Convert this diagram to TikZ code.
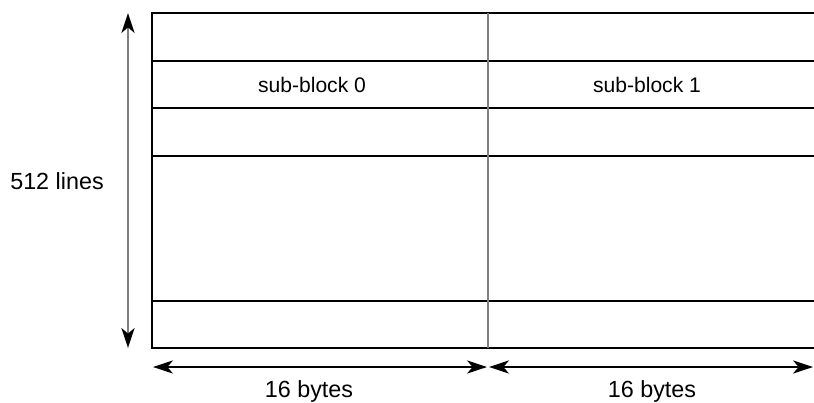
\documentclass[tikz,border=0pt]{standalone}
\usepackage{fontspec}
\setmainfont{Liberation Sans}
\usetikzlibrary{arrows.meta}
\begin{document}
\begin{tikzpicture}[x=0.025cm,y=-0.025cm,font=\fontsize{16.6}{19}\selectfont,
  rowline/.style={line width=2pt},
  celllabel/.style={anchor=base,font=\fontsize{15}{18}\selectfont},
  dimarrow/.style={{Stealth[length=0.5cm,width=0.33cm,inset=0.14cm,color=black]}-{Stealth[length=0.5cm,width=0.33cm,inset=0.14cm,color=black]}}]
  \path[use as bounding box] (0,0) rectangle (814,402);
  \clip (0,0) rectangle (814,402);
  % block outline and line rows
  \draw[rowline] (830,13) -| (152,348) -- (830,348);
  \foreach \y in {61,108,156,301}
    \draw[rowline] (152,\y) -- (830,\y);
  \draw[black!50,line width=0.8pt] (488,13) -- (488,348);
  % dimension arrows
  \coordinate (lntop) at (128,13);
  \coordinate (lnbot) at (128,348);
  \coordinate (bleft) at (153,367);
  \coordinate (bmidl) at (487,367);
  \coordinate (bmidr) at (489,367);
  \coordinate (bright) at (813,367);
  \draw[dimarrow,black!50,line width=1.5pt] (lntop) -- (lnbot);
  \draw[dimarrow,line width=0.8pt] (bleft) -- (bmidl);
  \draw[dimarrow,line width=0.8pt] (bmidr) -- (bright);
  % labels
  \node[anchor=base] (lines) at (57,189) {512 lines};
  \node[celllabel] (sub0) at (312,92) {sub-block 0};
  \node[celllabel] (sub1) at (647,92) {sub-block 1};
  \node[anchor=base] (bytes0) at (309,397) {16 bytes};
  \node[anchor=base] (bytes1) at (652,397) {16 bytes};
\end{tikzpicture}
\end{document}
